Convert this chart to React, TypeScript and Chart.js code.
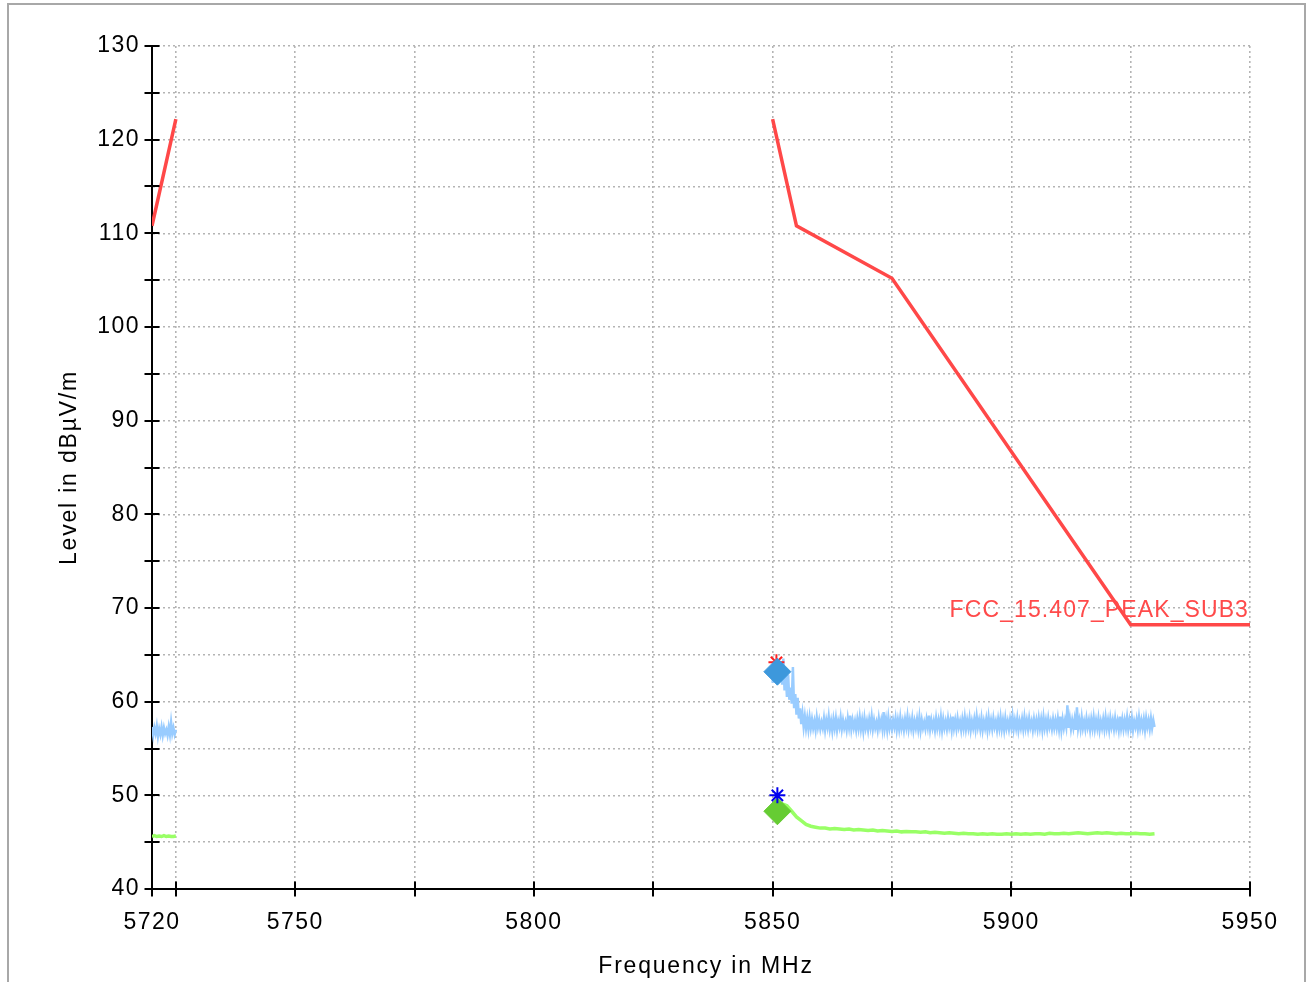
import React, { useEffect, useRef } from "react";
import { Chart, registerables } from "chart.js";

Chart.register(...registerables);

// ---------- DATA ----------
const X_MIN = 5720;
const X_MAX = 5950;
const Y_MIN = 40;
const Y_MAX = 130;

const xTickValues = [5720, 5725, 5750, 5775, 5800, 5825, 5850, 5875, 5900, 5925, 5950];
const xTickLabels = [5720, 5750, 5800, 5850, 5900, 5950];

// FCC limit line (two segments)
const limitLeftFreq = [5720, 5725];
const limitLeftLevel = [110.8, 122.2];
const limitRightFreq = [5850, 5855, 5875, 5925, 5950];
const limitRightLevel = [122.2, 110.8, 105.2, 68.2, 68.2];
const limitLabel = "FCC_15.407_PEAK_SUB3";

// Peak trace (light blue), 0.25 MHz steps
const peakLeftStart = 5720;
const peakLeftStep = 0.25;
const peakLeft = [
  57.3, 56.4, 57.2, 56.6, 57.4, 56.3, 57.1, 56.5, 57.3, 56.4, 57.2,
  56.6, 57.0, 56.4, 57.3, 56.5, 57.8, 56.6, 57.2, 56.5, 57.0,
];

const peakRightStart = 5850;
const peakRightStep = 0.25;
const peakRight = [
  62.0, 64.3, 62.6, 64.0, 62.4, 64.5, 62.8, 64.2, 61.8, 64.6,
  61.2, 63.0, 60.5, 62.9, 60.2, 61.5, 59.8, 63.7, 59.3, 60.8,
  58.6, 60.4, 58.2, 59.3, 57.6, 58.7, 57.3, 58.4, 57.2, 58.2,
  57.1, 58.3, 57.2,
  58.1, 57.2, 57.9, 57.0, 58.3, 57.3, 58.0, 57.1, 57.8, 57.2, 58.2, 57.0,
  58.0, 57.3, 58.4, 57.1, 57.9, 56.9, 58.1, 57.2, 58.2, 57.0, 57.9, 57.3,
  58.3, 57.1, 58.0, 57.2, 57.8, 57.0, 58.2, 57.3, 58.5, 57.1, 58.0, 57.2,
  57.9, 57.0, 58.1, 57.2, 58.3, 57.1, 58.0, 56.9, 58.2, 57.2, 57.9, 57.0,
  58.1, 57.3, 58.4, 57.1, 58.0, 57.2, 57.8, 57.0, 58.2, 57.3, 58.0, 57.1,
  58.9, 57.2, 58.1, 57.0, 58.3, 57.2, 57.9, 57.1, 58.0, 57.3, 58.2, 57.0,
  58.0, 57.1, 58.3, 57.2, 57.9, 57.0, 58.1, 57.3, 58.4, 57.1, 58.0, 57.2,
  58.2, 57.0, 57.9, 57.2, 58.1, 57.1, 58.3, 57.0, 58.0, 57.2, 57.8, 57.1,
  58.1, 57.3, 58.5, 57.1, 58.0, 57.2, 57.9, 57.0, 58.2, 57.2, 58.0, 57.1,
  58.3, 57.0, 58.1, 57.2, 57.9, 57.1, 58.2, 57.3, 58.0, 57.0, 58.4, 57.2,
  58.0, 57.1, 58.2, 57.3, 57.9, 57.0, 58.1, 57.2, 58.3, 57.1, 58.0, 57.2,
  58.2, 57.0, 57.9, 57.2, 58.1, 57.1, 58.4, 57.3, 58.0, 57.1, 58.2, 57.0,
  57.9, 57.2, 58.1, 57.0, 58.3, 57.2, 58.0, 57.1, 58.2, 57.3, 57.9, 57.0,
  58.1, 57.2, 58.3, 57.1, 58.0, 57.0, 58.2, 57.2, 57.9, 57.1, 58.1, 57.3,
  58.4, 57.1, 58.0, 57.2, 58.2, 57.0, 57.9, 57.2, 58.1, 57.1, 58.3, 57.2,
  58.0, 57.1, 58.2, 57.3, 57.9, 57.0, 58.1, 57.2, 58.0, 57.1, 58.2, 57.2,
  58.1, 57.0, 58.3, 57.2, 58.0, 57.1, 58.2, 57.3, 57.9, 57.1, 58.1, 57.2,
  58.0, 57.2, 58.2, 57.1, 58.4, 57.0, 58.1, 57.2, 58.0, 57.3, 59.6, 57.2,
  58.2, 57.1, 58.0, 57.2, 58.1, 57.0, 59.4, 57.2, 58.0, 57.1, 58.3, 57.2,
  57.9, 57.1, 58.2, 57.3, 58.0, 57.0, 58.1, 57.2, 58.3, 57.1, 58.0, 57.2,
  58.2, 57.0, 57.9, 57.2, 58.1, 57.1, 58.3, 57.2, 58.0, 57.0, 58.2, 57.3,
  58.0, 57.1, 58.2, 57.2, 57.9, 57.0, 58.4, 57.2, 58.1, 57.1, 58.0, 57.2,
  58.3, 57.1, 58.0, 57.2, 58.2, 57.0, 57.9, 57.3, 58.1, 57.1, 58.3, 57.2,
  58.0, 57.2, 58.1, 57.0, 58.2, 57.3, 58.0, 57.1, 58.2, 57.2, 58.0, 57.3,
];

// Average trace (light green)
const avgLeftStart = 5720;
const avgLeftStep = 0.5;
const avgLeft = [45.6, 45.7, 45.6, 45.65, 45.6, 45.7, 45.6, 45.65, 45.6, 45.6, 45.65];

const avgRightStart = 5850;
const avgRightStep = 1;
const avgRight = [
  48.6, 48.9, 49.1, 48.9, 48.3, 47.7, 47.3, 46.9, 46.7, 46.6, 46.5,
  46.5, 46.4, 46.45, 46.4, 46.35, 46.4, 46.3, 46.35, 46.3, 46.25,
  46.3, 46.2, 46.25, 46.2, 46.15, 46.2, 46.1, 46.15, 46.1, 46.1,
  46.05, 46.1, 46.0, 46.05, 46.0, 45.95, 46.0, 45.95, 45.9, 45.95,
  45.9, 45.9, 45.85, 45.9, 45.85, 45.9, 45.85, 45.85, 45.9, 45.85,
  45.9, 45.85, 45.9, 45.85, 45.9, 45.9, 45.85, 45.95, 45.9, 45.9,
  45.95, 45.9, 45.95, 46.0, 45.95, 45.9, 45.95, 46.0, 45.95, 46.0,
  45.95, 45.9, 45.95, 45.9, 45.9, 45.95, 45.9, 45.9, 45.85, 45.9,
];

// Markers
const peakMarker = { x: 5851, y: 63.2 };
const peakStar = { x: 5850.8, y: 64.2 };
const avgMarker = { x: 5851, y: 48.3 };
const avgStar = { x: 5851, y: 50.0 };

// ---------- HELPERS ----------
const FONT = '"Liberation Sans", Arial, Helvetica, sans-serif';

function stepSeries(start: number, step: number, values: number[]) {
  return values.map((v, i) => ({ x: start + i * step, y: v }));
}
function pairSeries(xs: number[], ys: number[]) {
  return xs.map((x, i) => ({ x, y: ys[i] }));
}

const decorPlugin = {
  id: "decor",
  beforeDraw(chart: any) {
    const ctx = chart.ctx;
    ctx.save();
    ctx.fillStyle = "#ffffff";
    ctx.fillRect(0, 0, chart.width, chart.height);
    ctx.fillStyle = "#a8a8a8";
    ctx.fillRect(8, 3, 1298, 2);
    ctx.fillRect(7, 3, 2, chart.height);
    ctx.fillRect(1304, 3, 2, chart.height);
    ctx.restore();
    ctx.letterSpacing = "1.5px";
  },
  afterDraw(chart: any) {
    const ctx = chart.ctx;
    const xs = chart.scales.x;
    const ys = chart.scales.y;
    const area = chart.chartArea;
    ctx.save();
    ctx.strokeStyle = "#000";
    ctx.lineWidth = 2;
    ctx.beginPath();
    ys.ticks.forEach((t: any) => {
      const y = Math.round(ys.getPixelForValue(t.value));
      ctx.moveTo(area.left - 7.5, y);
      ctx.lineTo(area.left + 7.5, y);
    });
    xs.ticks.forEach((t: any) => {
      const x = Math.round(xs.getPixelForValue(t.value));
      ctx.moveTo(x, area.bottom - 7.5);
      ctx.lineTo(x, area.bottom + 7.5);
    });
    ctx.stroke();

    ctx.fillStyle = "#000";
    ctx.font = `23px ${FONT}`;
    ctx.letterSpacing = "1.8px";
    ctx.textAlign = "center";
    ctx.textBaseline = "middle";
    ctx.fillText("Frequency in MHz", (area.left + area.right) / 2 + 5, 967);
    ctx.save();
    ctx.translate(70, (area.top + area.bottom) / 2);
    ctx.rotate(-Math.PI / 2);
    ctx.fillText("Level in dBµV/m", 0, 0);
    ctx.restore();

    ctx.fillStyle = "#ff4a4a";
    ctx.font = `23px ${FONT}`;
    ctx.letterSpacing = "1.1px";
    ctx.textAlign = "right";
    ctx.textBaseline = "alphabetic";
    const lastIdx = limitRightLevel.length - 1;
    ctx.fillText(
      limitLabel,
      xs.getPixelForValue(limitRightFreq[lastIdx]) - 1,
      ys.getPixelForValue(limitRightLevel[lastIdx]) - 8
    );
    ctx.restore();
  },
};

export default function App() {
  const ref = useRef<HTMLCanvasElement | null>(null);

  useEffect(() => {
    if (!ref.current) return;
    const limitData = [
      ...pairSeries(limitLeftFreq, limitLeftLevel),
      { x: 5787, y: null as any },
      ...pairSeries(limitRightFreq, limitRightLevel),
    ];
    const peakData = [
      ...stepSeries(peakLeftStart, peakLeftStep, peakLeft),
      { x: 5787, y: null as any },
      ...stepSeries(peakRightStart, peakRightStep, peakRight),
    ];
    const avgData = [
      ...stepSeries(avgLeftStart, avgLeftStep, avgLeft),
      { x: 5787, y: null as any },
      ...stepSeries(avgRightStart, avgRightStep, avgRight),
    ];

    const chart = new Chart(ref.current, {
      type: "line",
      data: {
        datasets: [
          {
            label: "peakStar",
            data: [peakStar],
            showLine: false,
            pointStyle: "star",
            pointRadius: 8,
            borderColor: "#ff2020",
            borderWidth: 2,
            backgroundColor: "#ff2020",
            order: 3,
          } as any,
          {
            label: "peakMarker",
            data: [peakMarker],
            showLine: false,
            pointStyle: "rectRot",
            pointRadius: 13.5,
            borderColor: "#3d98dc",
            borderWidth: 1,
            backgroundColor: "#3d98dc",
            order: 1,
          },
          {
            label: "avgStar",
            data: [avgStar],
            showLine: false,
            pointStyle: "star",
            pointRadius: 8,
            borderColor: "#0000ee",
            borderWidth: 2,
            backgroundColor: "#0000ee",
            order: 1,
          },
          {
            label: "avgMarker",
            data: [avgMarker],
            showLine: false,
            pointStyle: "rectRot",
            pointRadius: 13.5,
            borderColor: "#66cc33",
            borderWidth: 1,
            backgroundColor: "#66cc33",
            order: 2,
          },
          {
            label: "limit",
            data: limitData,
            borderColor: "#ff4848",
            borderWidth: 3.5,
            pointRadius: 0,
            tension: 0,
            spanGaps: false,
            order: 4,
          },
          {
            label: "peak",
            data: peakData,
            borderColor: "#99ccff",
            borderWidth: 2.5,
            pointRadius: 0,
            tension: 0,
            spanGaps: false,
            order: 5,
          },
          {
            label: "avg",
            data: avgData,
            borderColor: "#99ff66",
            borderWidth: 3.5,
            pointRadius: 0,
            tension: 0,
            spanGaps: false,
            order: 6,
          },
        ],
      },
      options: {
        responsive: false,
        animation: false,
        devicePixelRatio: 1,
        layout: { padding: { left: 0, right: 60, top: 46, bottom: 0 } },
        plugins: {
          legend: { display: false },
          tooltip: { enabled: false },
          title: { display: false },
        },
        scales: {
          x: {
            type: "linear",
            min: X_MIN,
            max: X_MAX,
            afterBuildTicks: (s: any) => {
              s.ticks = xTickValues.map((v) => ({ value: v }));
            },
            afterFit: (s: any) => {
              s.height = 93;
            },
            ticks: {
              autoSkip: false,
              maxRotation: 0,
              minRotation: 0,
              padding: 20,
              color: "#000",
              font: { family: FONT, size: 23 },
              callback: (v: any) => (xTickLabels.includes(Number(v)) ? String(v) : ""),
            },
            grid: {
              color: "#b4b4b4",
              lineWidth: 1.6,
              drawTicks: false,
            },
            border: { display: true, color: "#000", width: 2, dash: [2, 3] },
          },
          y: {
            type: "linear",
            min: Y_MIN,
            max: Y_MAX,
            afterFit: (s: any) => {
              s.width = 152;
            },
            ticks: {
              stepSize: 5,
              autoSkip: false,
              padding: 12,
              color: "#000",
              font: { family: FONT, size: 23 },
              callback: (v: any) => (Number(v) % 10 === 0 ? String(v) : ""),
            },
            grid: {
              color: "#b4b4b4",
              lineWidth: 1.6,
              drawTicks: false,
            },
            border: { display: true, color: "#000", width: 2, dash: [2, 3] },
          },
        },
      },
      plugins: [decorPlugin],
    });
    return () => chart.destroy();
  }, []);

  return (
    <div style={{ position: "absolute", left: 0, top: 0, width: 1310, height: 982 }}>
      <canvas ref={ref} width={1310} height={982} />
    </div>
  );
}
